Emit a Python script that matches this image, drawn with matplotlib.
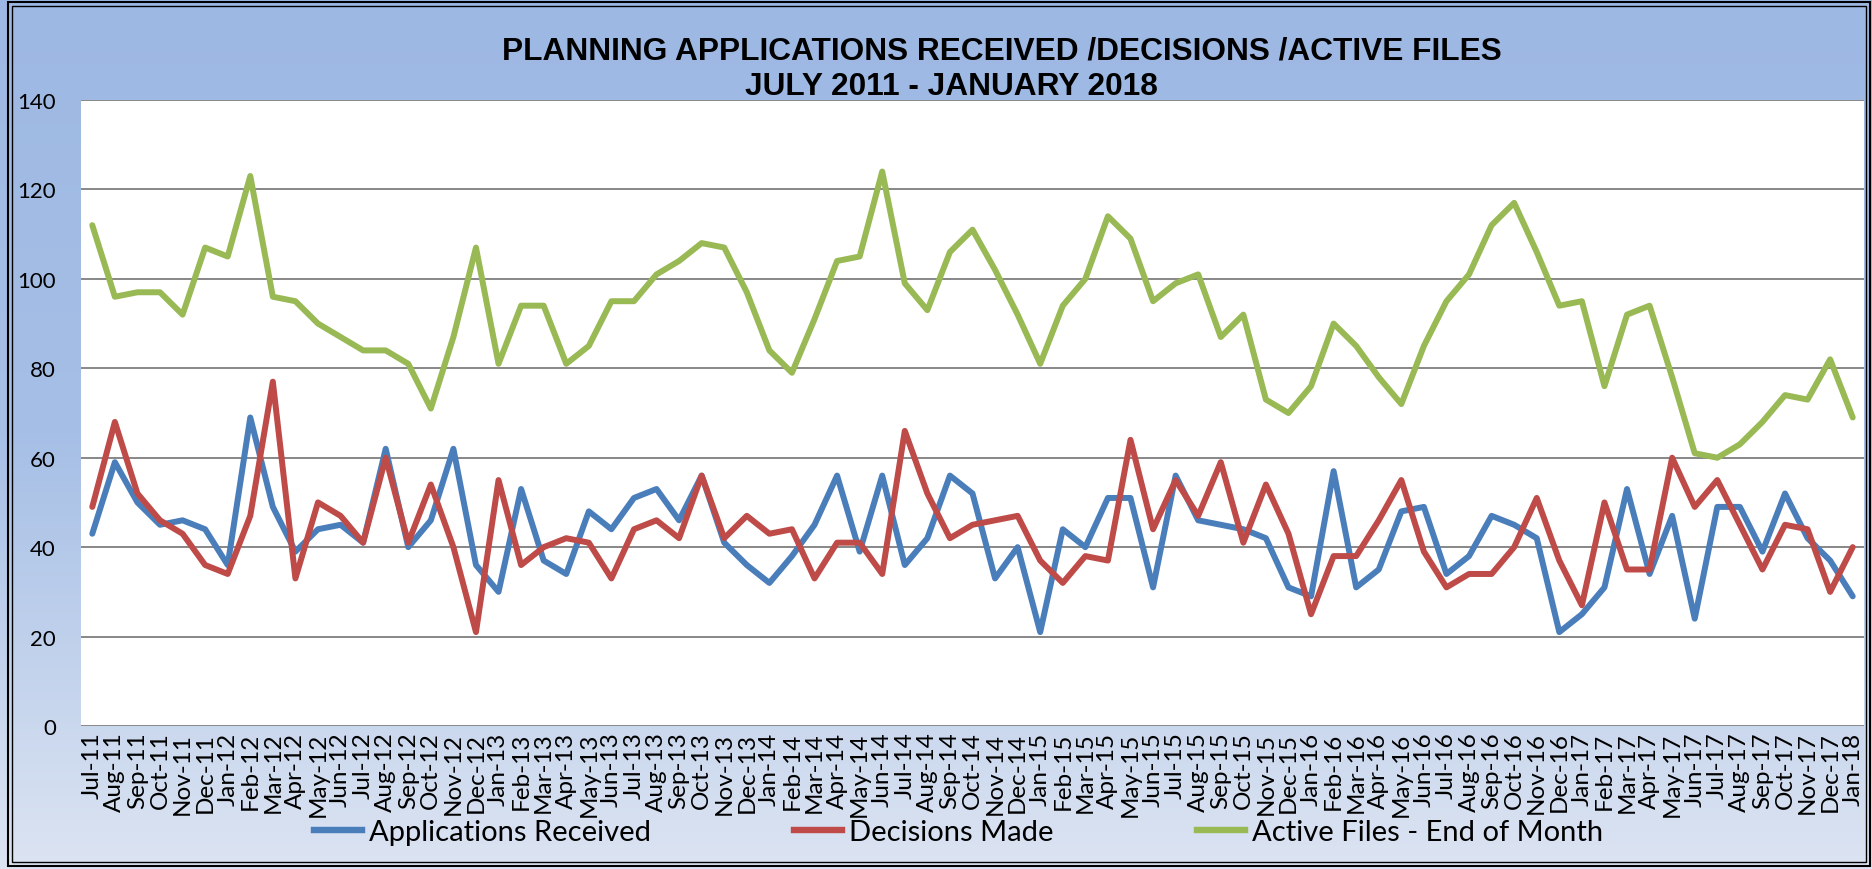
import numpy as np
import pandas as pd
import matplotlib
matplotlib.use('Agg')
import matplotlib.pyplot as plt
from matplotlib.patches import Rectangle
from matplotlib.colors import LinearSegmentedColormap
from matplotlib.lines import Line2D

# maanedsetiketter Jul-11 .. Jan-18
months = pd.date_range('2011-07-01', '2018-01-01', freq='MS').strftime('%b-%y').tolist()

applications = [43, 59, 50, 45, 46, 44, 36, 69, 49, 39, 44, 45, 41, 62, 40, 46, 62, 36, 30, 53,
                37, 34, 48, 44, 51, 53, 46, 56, 41, 36, 32, 38, 45, 56, 39, 56, 36, 42, 56, 52,
                33, 40, 21, 44, 40, 51, 51, 31, 56, 46, 45, 44, 42, 31, 29, 57, 31, 35, 48, 49,
                34, 38, 47, 45, 42, 21, 25, 31, 53, 34, 47, 24, 49, 49, 39, 52, 42, 37, 29]
decisions = [49, 68, 52, 46, 43, 36, 34, 47, 77, 33, 50, 47, 41, 60, 41, 54, 40, 21, 55, 36,
             40, 42, 41, 33, 44, 46, 42, 56, 42, 47, 43, 44, 33, 41, 41, 34, 66, 52, 42, 45,
             46, 47, 37, 32, 38, 37, 64, 44, 55, 47, 59, 41, 54, 43, 25, 38, 38, 46, 55, 39,
             31, 34, 34, 40, 51, 37, 27, 50, 35, 35, 60, 49, 55, 45, 35, 45, 44, 30, 40]
active_files = [112, 96, 97, 97, 92, 107, 105, 123, 96, 95, 90, 87, 84, 84, 81, 71, 87, 107, 81, 94,
                94, 81, 85, 95, 95, 101, 104, 108, 107, 97, 84, 79, 91, 104, 105, 124, 99, 93, 106, 111,
                102, 92, 81, 94, 100, 114, 109, 95, 99, 101, 87, 92, 73, 70, 76, 90, 85, 78, 72, 85,
                95, 101, 112, 117, 106, 94, 95, 76, 92, 94, 78, 61, 60, 63, 68, 74, 73, 82, 69]

series_names = ['Applications Received', 'Decisions Made', 'Active Files - End of Month']
colours = ['#4A7EBB', '#BE4B48', '#98B954']
title_line1 = 'PLANNING APPLICATIONS RECEIVED /DECISIONS /ACTIVE FILES'
title_line2 = 'JULY 2011 - JANUARY 2018'

W, H = 1872, 870
fig = plt.figure(figsize=(W / 100, H / 100), dpi=100)

# bakgrunn med gradient
bg = fig.add_axes([0, 0, 1, 1], zorder=-10)
grad = np.linspace(0, 1, 256).reshape(-1, 1)
cmap = LinearSegmentedColormap.from_list('bg', ['#9DB8E3', '#A6BFE6', '#DCE4F2'])
bg.imshow(grad, aspect='auto', cmap=cmap, extent=[0, 1, 0, 1], origin='upper')
bg.axis('off')

ax = fig.add_axes([81 / W, 1 - 727 / H, (1864 - 81) / W, (727 - 101) / H])
ax.set_facecolor('white')

x = np.arange(len(months))
for values, name, col in zip([applications, decisions, active_files], series_names, colours):
    ax.plot(x, values, color=col, lw=4.3, label=name, solid_joinstyle='round', solid_capstyle='round')

ax.set_xlim(-0.5, len(months) - 0.5)
ax.set_ylim(0, 140)
ax.set_yticks(range(0, 141, 20))
ax.set_xticks(x)
ax.set_xticklabels(months, rotation=90, fontsize=17.5, family='Lato')
for lab in ax.get_yticklabels():
    lab.set_fontsize(16)
    lab.set_family('Lato')
ax.tick_params(axis='both', length=0)
ax.tick_params(axis='y', pad=18)
ax.tick_params(axis='x', pad=4)
ax.grid(axis='y', color='#878787', lw=1.4)
ax.set_axisbelow(True)
for s in ax.spines.values():
    s.set_visible(False)

# tittel
fig.text(1002 / W, 1 - 51 / H, title_line1, ha='center', va='center', fontsize=22.8,
         fontweight='bold', family='Liberation Sans')
fig.text(951 / W, 1 - 87 / H, title_line2, ha='center', va='center', fontsize=22.8,
         fontweight='bold', family='Liberation Sans')

# legende
handles = [Line2D([0], [0], color=c, lw=4.6) for c in colours]
fig.legend(handles, series_names, loc='center', bbox_to_anchor=(0.512, 1 - 833 / H), ncol=3,
           frameon=False, prop={'family': 'Lato', 'size': 21}, handlelength=1.65,
           handletextpad=0.25, columnspacing=4.9)

# dobbel ramme
fig.patches.append(Rectangle((8 / W, 3 / H), (1870 - 8) / W, (867 - 3) / H, transform=fig.transFigure,
                             fill=False, ec='black', lw=1.5))
fig.patches.append(Rectangle((12 / W, 7 / H), (1866 - 12) / W, (863 - 7) / H, transform=fig.transFigure,
                             fill=False, ec='black', lw=1.0))

fig.savefig('out.png', dpi=100)
